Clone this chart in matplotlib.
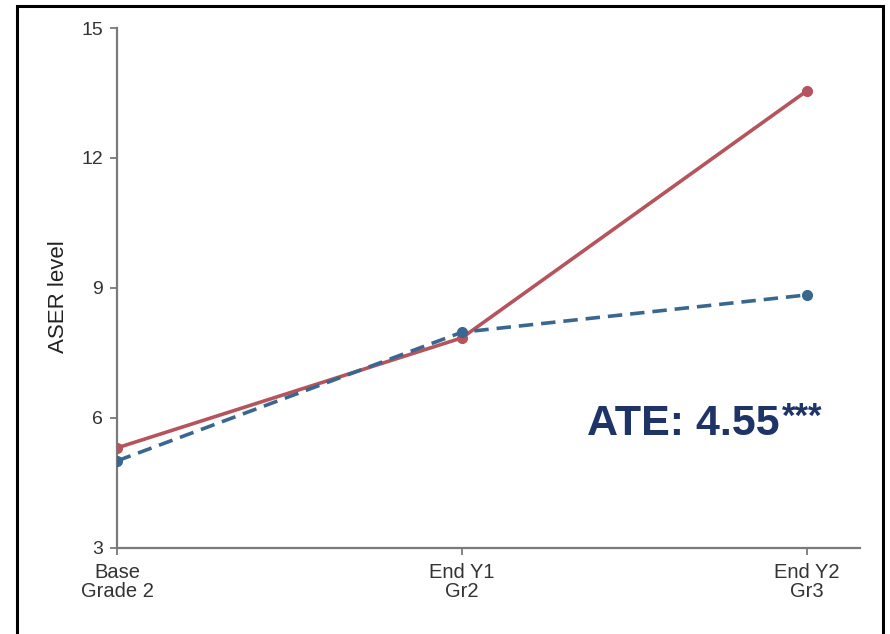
import matplotlib.pyplot as plt
import matplotlib.patches as mpatches

plt.rcParams["font.family"] = ["Liberation Sans", "DejaVu Sans"]

# data
periods = ["Base\nGrade 2", "End Y1\nGr2", "End Y2\nGr3"]
treatment = [5.31, 7.85, 13.55]
control = [5.01, 7.98, 8.84]
yticks = [3, 6, 9, 12, 15]
ate_label = "ATE: 4.55"
ate_stars = "***"

red = "#b5545c"
blue = "#3a678f"
grey = "#7a7a7a"
navy = "#1f3466"

fig = plt.figure(figsize=(8.9, 6.34), dpi=100)
ax = fig.add_axes([117 / 890, 1 - 548 / 634, (860 - 117) / 890, (548 - 28) / 634])

x = list(range(len(periods)))
ax.plot(x, treatment, color=red, lw=2.6, marker="o", ms=7, zorder=3)
ax.plot(x, control, color=blue, lw=2.6, ls=(0, (4, 2.2)), marker="o", ms=7, zorder=3)

ax.set_xlim(0, 2.154)
ax.set_ylim(3, 15)
ax.set_xticks(x)
ax.set_xticklabels(periods, fontsize=14.5, linespacing=0.95)
ax.set_yticks(yticks)
ax.set_yticklabels([str(t) for t in yticks], fontsize=14)
ax.set_ylabel("ASER level", fontsize=16, color="#222222")
ax.yaxis.set_label_coords(-0.064, 0.483)

for s in ["top", "right"]:
    ax.spines[s].set_visible(False)
for s in ["left", "bottom"]:
    ax.spines[s].set_color(grey)
    ax.spines[s].set_linewidth(1.6)
ax.tick_params(axis="both", colors=grey, length=5, width=1.3,
               labelcolor="#333333")
ax.tick_params(axis="x", pad=6)
ax.tick_params(axis="y", pad=5)

t = ax.text(1.362, 5.61, ate_label, fontsize=31, fontweight="bold", color=navy,
            ha="left", va="baseline")
ax.annotate(ate_stars, xy=(1.0, 1.0), xycoords=t, xytext=(1.5, 2),
            textcoords="offset points", fontsize=25, fontweight="bold",
            color=navy, ha="left", va="top")

# black frame around the chart, open at the bottom
frame = mpatches.Rectangle((17 / 890, -0.05), (883 - 17) / 890, 1.05 - 6 / 634,
                           transform=fig.transFigure, fill=False, lw=2.2,
                           edgecolor="black", clip_on=False)
fig.patches.append(frame)

fig.savefig("out.png", dpi=100)
